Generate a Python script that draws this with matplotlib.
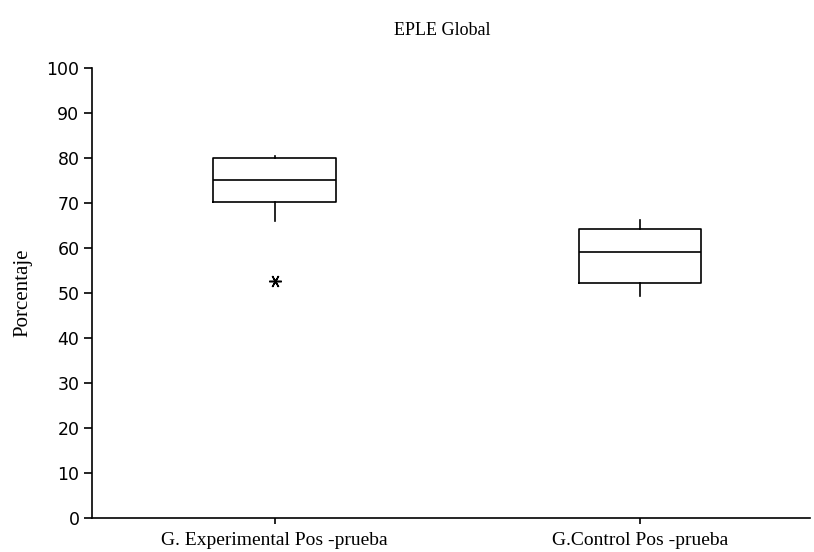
import matplotlib
matplotlib.use("Agg")
import matplotlib.pyplot as plt

# Box-plot summary statistics (percentages)
groups = ["G. Experimental Pos -prueba", "G.Control Pos -prueba"]
whisker_low = [65.9, 49.4]
q1 = [70.2, 52.1]
median = [75.0, 59.2]
q3 = [80.0, 64.3]
whisker_high = [80.5, 66.3]
outliers = [[52.6], []]
yticks = [0, 10, 20, 30, 40, 50, 60, 70, 80, 90, 100]

stats = []
for i, name in enumerate(groups):
    stats.append(dict(label=name, whislo=whisker_low[i], q1=q1[i], med=median[i],
                      q3=q3[i], whishi=whisker_high[i], fliers=outliers[i]))

fig = plt.figure(figsize=(8.14, 5.52), dpi=100)
ax = fig.add_axes([0.113, 0.0616, 0.882, 0.8154])

lw = 1.2
ax.bxp(stats, positions=[1, 2], widths=0.335, showcaps=False,
       boxprops=dict(color="black", linewidth=lw),
       medianprops=dict(color="black", linewidth=lw),
       whiskerprops=dict(color="black", linewidth=lw),
       flierprops=dict(marker=(6, 2, 90), markersize=9, markeredgecolor="black",
                       markerfacecolor="black", markeredgewidth=1.1))

ax.set_xlim(0.5, 2.465)
ax.set_ylim(0, 100)
ax.set_yticks(yticks)
ax.set_yticklabels([str(v) for v in yticks], fontsize=12.5, family="DejaVu Sans")
ax.set_xticks([1, 2])
ax.set_xticklabels(groups, fontsize=14, family="Liberation Serif")
ax.tick_params(axis="y", direction="out", length=6, width=lw, pad=3)
ax.tick_params(axis="x", direction="out", length=4, width=lw, pad=6)

for side in ["top", "right"]:
    ax.spines[side].set_visible(False)
for side in ["left", "bottom"]:
    ax.spines[side].set_linewidth(lw)

ax.set_ylabel("Porcentaje", fontsize=15, family="Liberation Serif", labelpad=10)
fig.text(0.543, 0.945, "EPLE Global", ha="center", va="center",
         fontsize=13, family="Liberation Serif")

fig.savefig("out.png", dpi=100)
